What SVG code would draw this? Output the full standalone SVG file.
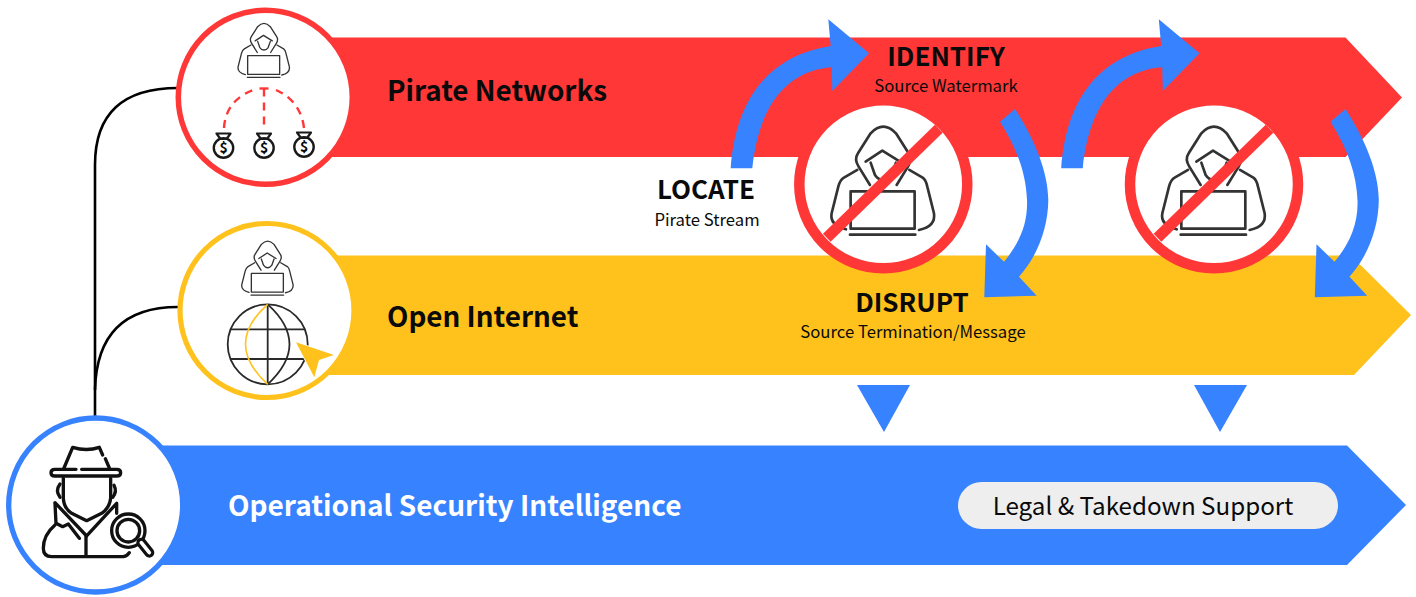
<svg xmlns="http://www.w3.org/2000/svg" width="1416" height="597" viewBox="0 0 1416 597">
<style>
text{font-family:"Noto Sans CJK SC","Noto Sans",sans-serif;fill:#0a0a0a}
.h{font-size:26px;font-weight:700;text-anchor:middle}
.s{font-size:16.700px;text-anchor:middle}
.t{font-size:27.800px;font-weight:700}
.ln{fill:none;stroke:#333;stroke-width:8;stroke-linecap:round;stroke-linejoin:round}
.sp{fill:none;stroke:#111;stroke-width:10;stroke-linecap:round;stroke-linejoin:round}
.g{fill:none;stroke:#2a2a2a;stroke-width:1.800}
.d{fill:none;stroke:#FF3737;stroke-width:2.400;stroke-dasharray:8 6}
.c{fill:none;stroke:#000;stroke-width:2.600}
.b{font-weight:700;text-anchor:middle;font-size:14px}
</style>
<defs>
<g id="hacker" class="ln">
<path d="M450 525L416 470Q402 448 414 430L452 370Q490 330 528 370L566 430Q578 448 564 470L530 525"/>
<path d="M437 455L487 422L540 455M452 458L465 495Q475 510 490 510Q505 510 515 495L528 458"/>
<path d="M412 480L372 503Q360 510 355 530L335 610Q328 645 378 658M568 480L608 503Q618 510 622 530L642 610Q648 650 597 660"/>
<rect x="392" y="544" width="192" height="112"/>
<path d="M390 674H586"/>
</g>
<g id="bag" fill="none" stroke="#1a1a1a" stroke-linejoin="round">
<circle cy="2" r="9.700" stroke-width="2.400"/>
<path d="M-7-12.500H7L3-7H-3Z" stroke-width="2.200"/>
<text class="b" y="7" style="stroke:none">$</text>
</g>
<g id="ban">
<circle r="84" fill="#fff" stroke="#FF3737" stroke-width="10.500"/>
<use href="#hacker" transform="scale(.3333) translate(-490 -523)"/>
<path d="M55.500-55.500L-56.500 53.500" fill="none" stroke="#FF3737" stroke-width="11"/>
</g>
<g id="loop" fill="#3782FF">
<path d="M730.700 168.300C736 95 772 55 830.700 46L828.300 19.300L869 53.300L832.300 91L831.700 67.300C795 70 760 95 752.300 168.300Z"/>
<path d="M1000 121.700L1015 109C1035 140 1048 172 1048.300 200C1048 230 1036 258 1019 276.700L1036.700 295.700L984.300 297.300L986 244.300L1004 261.700C1018 245 1028 225 1027 200C1026 175 1018 150 1000 121.700Z"/>
</g>
</defs>

<g id="connectors">
<path class="c" d="M95 416V165Q95 88 178 88"/>
<path class="c" d="M95 390Q97 307 178 307"/>
</g>

<g id="band-red"><path d="M300 37.500H1345.500L1402 97.500L1345.500 157H300Z" fill="#FF3737"/></g>
<g id="band-yellow"><path d="M300 255.500H1351L1411 315L1354 375H300Z" fill="#FFC21C"/></g>
<g id="band-blue"><path d="M130 445.500H1347L1406 505L1347 565H130Z" fill="#3782FF"/></g>

<g id="node-pirate">
<circle cx="265.300" cy="97.300" r="87" fill="#fff" stroke="#FF3737" stroke-width="5.500"/>
<use href="#hacker" transform="translate(182.300 -35) scale(.1667)"/>
<path class="d" d="M224 128C225 110 235 97 253 90"/>
<path class="d" d="M304 128C302 110 292 97 276 90"/>
<path d="M259.500 88.500H268.500" stroke="#FF3737" stroke-width="2.400"/>
<path class="d" d="M264 88.500V130"/>
<use href="#bag" x="223.500" y="146"/><use href="#bag" x="264" y="146"/><use href="#bag" x="304" y="145"/>
<text class="t" x="387" y="101">Pirate Networks</text>
</g>

<g id="node-open">
<circle cx="267" cy="310.500" r="87" fill="#fff" stroke="#FFC21C" stroke-width="5.200"/>
<use href="#hacker" transform="translate(186 182.700) scale(.1667)"/>
<g class="g">
<circle cx="267.700" cy="344.300" r="40"/>
<path d="M267.700 304.300V384.300M231 329.300H304.500M231 359H304.500"/>
<path d="M267.700 304.300Q289.500 324 289.500 344.300Q289.500 364 267.700 384.300"/>
</g>
<path d="M267.700 304.300Q245.500 324 245.500 344.300Q245.500 364 267.700 384.300" fill="none" stroke="#FFC21C" stroke-width="1.600"/>
<path d="M296 342.300L334 355L319 360L314.300 377.300Z" fill="#FFC21C" stroke="#fff" stroke-width="1.500" paint-order="stroke"/>
<text class="t" x="387" y="327">Open Internet</text>
</g>

<g id="node-intel">
<circle cx="95.700" cy="505" r="87" fill="#fff" stroke="#3782FF" stroke-width="5.300"/>
<g class="sp" transform="translate(0 410) scale(.3333)">
<path d="M228 178H165Q153 178 153 188Q153 198 165 198H350Q362 198 362 188Q362 178 350 178H245"/>
<path d="M192 174L218 112Q260 125 298 112L308 135M316 146L328 174"/>
<path d="M190 205V265Q192 295 215 310L260 332L305 310Q328 295 332 265V205"/>
<path d="M180 222Q165 242 180 262M342 226Q352 245 338 262"/>
<path d="M165 278L260 378L350 280V310M165 280L168 340L188 350L205 342L238 385"/>
<path d="M165 345Q130 375 130 415Q130 440 155 440H370Q382 438 388 428M258 378V438"/>
<circle cx="385" cy="362" r="50" fill="#fff"/>
<circle cx="385" cy="362" r="34"/>
<path d="M424 398L448 428" stroke-width="30"/>
<path d="M424 398L448 428" stroke="#fff" stroke-width="11"/>
</g>
<text class="t" x="228" y="516" style="fill:#fff;font-size:28px">Operational Security Intelligence</text>
</g>

<g id="node-ban-1"><use href="#ban" x="883.300" y="184.300"/></g>
<g id="node-ban-2"><use href="#ban" x="1214" y="184.300"/></g>

<g id="loop-arrows">
<use href="#loop"/>
<use href="#loop" x="330.500"/>
</g>

<g id="node-identify"><text class="h" x="946" y="66">IDENTIFY</text><text class="s" x="946" y="92">Source Watermark</text></g>
<g id="node-locate"><text class="h" x="706" y="199">LOCATE</text><text class="s" x="707" y="226">Pirate Stream</text></g>
<g id="node-disrupt"><text class="h" x="912" y="312">DISRUPT</text><text class="s" x="913" y="338">Source Termination/Message</text></g>

<g id="down-arrows" fill="#3782FF">
<path d="M857 385H910L884 432Z"/>
<path d="M1194 385H1247L1220 432Z"/>
</g>

<g id="node-legal">
<rect x="958" y="482" width="380" height="47" rx="23.500" fill="#EEEEEE"/>
<text x="1143" y="515" text-anchor="middle" style="font-size:24.200px">Legal &amp; Takedown Support</text>
</g>
</svg>
